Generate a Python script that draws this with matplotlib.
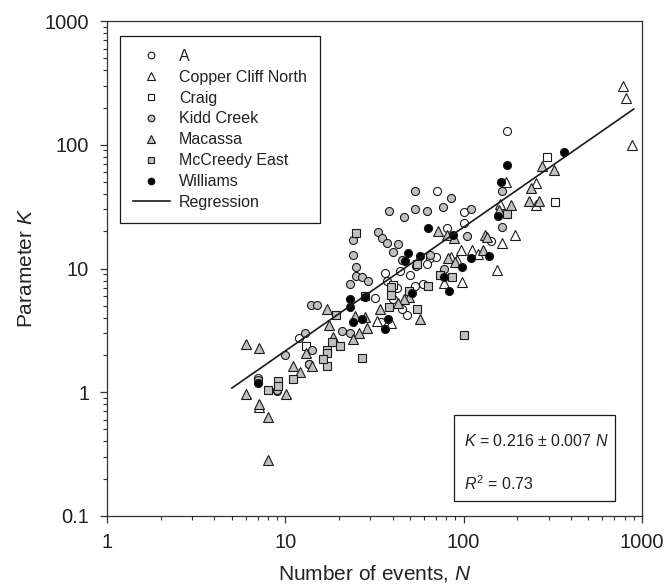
import numpy as np
import matplotlib
matplotlib.use('Agg')
import matplotlib.pyplot as plt
from matplotlib.lines import Line2D
from matplotlib.patches import Rectangle

plt.rcParams['font.family'] = ['Liberation Sans', 'DejaVu Sans']
plt.rcParams['mathtext.fontset'] = 'custom'
plt.rcParams['mathtext.rm'] = 'Liberation Sans'
plt.rcParams['mathtext.it'] = 'Liberation Sans:italic'

# ─── Data ────────────────────────────────────────────────────────────────────
a_N = [176, 70.5, 101, 101, 81, 143, 65, 36, 50, 59, 53, 32, 48, 45, 11.9, 13.5,
       7, 9, 42.5, 40, 62.5, 34.5, 37, 44, 70]
a_K = [129, 42.4, 28.6, 23.2, 21.2, 16.8, 12.1, 9.2, 8.8, 7.5, 7.2, 5.8, 4.2, 4.75,
       2.73, 1.68, 1.31, 1.03, 7.0, 5.7, 10.9, 3.7, 8.0, 9.6, 12.5]

ccn_N = [788, 811, 880, 255, 255, 173, 164, 193, 153, 98, 78, 92, 111, 97, 32.6,
         39, 7.08, 160, 18.4, 85, 120]
ccn_K = [297, 238, 99.6, 48.8, 32.6, 49.8, 16, 18.8, 9.7, 7.8, 7.6, 11.7, 14.2,
         14.2, 3.8, 3.6, 0.755, 33, 2.7, 12.5, 13]

craig_N = [292, 327, 13.1, 40]
craig_K = [79, 34.2, 2.38, 7.4]

kidd_N = [53, 62, 53, 85, 77, 110, 164, 164, 104, 38, 46, 33, 35, 37, 43, 40, 45,
          24, 24, 25, 23, 25, 27, 29, 13.9, 15, 12.9, 10, 14.1, 13.6, 20.7, 23,
          65, 78, 54, 9, 7]
kidd_K = [42.4, 29, 30, 37.4, 31.5, 30.4, 42.4, 21.5, 18.4, 29, 26, 19.8, 17.8,
          16, 15.8, 13.5, 11.7, 17, 12.9, 10.2, 7.5, 8.7, 8.6, 7.9, 5.1, 5.05,
          3.0, 2.0, 2.2, 1.68, 3.1, 3.0, 12.9, 10, 10.4, 1.05, 1.25]

mac_N = [277, 321, 238, 265, 234, 158, 184, 131, 135, 129, 82, 81, 71.6, 88, 89,
         56.6, 49.5, 46, 43, 34, 28, 28.6, 25.8, 23.9, 24.7, 17.1, 18.4, 17.6,
         14.1, 13, 11, 12, 6, 7.08, 6, 7.08, 8.03, 8.03, 10.1]
mac_K = [67.6, 62, 44.6, 35, 35, 29.6, 32.8, 18.7, 18, 14.2, 12.1, 18.8, 20, 17.5,
         11.2, 3.9, 5.9, 5.7, 5.3, 4.75, 4.05, 3.3, 3.0, 2.67, 4.1, 4.75, 2.8,
         3.5, 1.62, 2.07, 1.64, 1.46, 2.46, 2.29, 0.96, 0.80, 0.634, 0.281, 0.96]

mce_N = [175, 101, 86, 73.6, 63, 55, 49.5, 55, 39, 39, 38, 25, 28, 27, 19.3, 20.2,
         18.3, 17.1, 17.1, 17.1, 16.2, 11.1, 9.07, 8.03, 9.07]
mce_K = [27.5, 2.88, 8.6, 8.8, 7.2, 4.75, 6.6, 10.9, 7.1, 6.1, 4.85, 19.5, 6.0,
         1.89, 4.2, 2.38, 2.55, 2.21, 2.07, 1.64, 1.87, 1.29, 1.24, 1.05, 1.12]

wil_N = [365, 176, 162, 155, 63, 87, 49, 57, 47, 110, 139, 98, 78, 83, 51.5, 23,
         23, 28, 24, 27, 37.6, 36, 7]
wil_K = [87, 69, 50, 26.6, 21.2, 18.8, 13.3, 12.7, 11.5, 12.1, 12.7, 10.3, 8.6,
         6.6, 6.3, 5.7, 4.9, 5.9, 3.7, 3.9, 3.9, 3.25, 1.19]

slope = 0.216
reg_N = [5, 900]

GRAY = '#c0c0c0'
series = [
    ('A', a_N, a_K, 'o', 'white'),
    ('Copper Cliff North', ccn_N, ccn_K, '^', 'white'),
    ('Craig', craig_N, craig_K, 's', 'white'),
    ('Kidd Creek', kidd_N, kidd_K, 'o', GRAY),
    ('Macassa', mac_N, mac_K, '^', GRAY),
    ('McCreedy East', mce_N, mce_K, 's', GRAY),
    ('Williams', wil_N, wil_K, 'o', 'black'),
]
msize = {'o': 5.8, 's': 5.6, '^': 6.6}

# ─── Figure ──────────────────────────────────────────────────────────────────
fig = plt.figure(figsize=(6.7, 5.85), dpi=100)
ax = fig.add_axes([0.160, 0.118, 0.798, 0.846])

handles = []
for name, xs, ys, mk, fc in series:
    ax.plot(xs, ys, linestyle='none', marker=mk, markersize=msize[mk],
            markerfacecolor=fc, markeredgecolor='#1a1a1a', markeredgewidth=0.8)
    handles.append(Line2D([], [], linestyle='none', marker=mk,
                          markersize=msize[mk] - 1.0,
                          markerfacecolor=fc, markeredgecolor='#1a1a1a',
                          markeredgewidth=0.8, label=name))

reg_x = np.array(reg_N, dtype=float)
ax.plot(reg_x, slope * reg_x, color='#1a1a1a', linewidth=1.2)
handles.append(Line2D([], [], color='#1a1a1a', linewidth=1.2, label='Regression'))

ax.set_xscale('log')
ax.set_yscale('log')
ax.set_xlim(1, 1000)
ax.set_ylim(0.1, 1000)
ax.set_xticks([1, 10, 100, 1000])
ax.set_xticklabels(['1', '10', '100', '1000'])
ax.set_yticks([0.1, 1, 10, 100, 1000])
ax.set_yticklabels(['0.1', '1', '10', '100', '1000'])
ax.tick_params(which='major', direction='out', length=5, width=0.9,
               labelsize=14.5, color='#333333', labelcolor='#222222')
ax.tick_params(axis='y', which='major', pad=8)
ax.tick_params(axis='x', which='major', pad=7)
ax.tick_params(which='minor', direction='out', length=3, width=0.8,
               color='#333333')
ax.tick_params(top=False, right=False, which='both')
for sp in ax.spines.values():
    sp.set_linewidth(0.9)
    sp.set_color('#333333')

ax.set_xlabel('Number of events, $N$', fontsize=15, labelpad=8, color='#222222')
ax.set_ylabel('Parameter $K$', fontsize=15, labelpad=6, color='#222222')

leg = ax.legend(handles=handles, loc='upper left', bbox_to_anchor=(0.024, 0.970),
                borderaxespad=0, fontsize=11.5, frameon=True, fancybox=False,
                edgecolor='#1a1a1a', framealpha=1, handlelength=2.3,
                handletextpad=0.6, labelspacing=0.37, borderpad=0.8)
leg.get_frame().set_linewidth(0.9)
for t in leg.get_texts():
    t.set_color('#222222')

# equation box
ax.add_patch(Rectangle((0.649, 0.030), 0.301, 0.174, transform=ax.transAxes,
                       facecolor='white', edgecolor='#1a1a1a', linewidth=0.9,
                       zorder=5))
ax.text(0.667, 0.152, '$K$ = 0.216 ± 0.007 $N$', transform=ax.transAxes,
        fontsize=11.5, va='center', ha='left', zorder=6, color='#222222')
ax.text(0.667, 0.065, '$R^2$ = 0.73', transform=ax.transAxes,
        fontsize=11.5, va='center', ha='left', zorder=6, color='#222222')

fig.savefig('out.png', dpi=100)
